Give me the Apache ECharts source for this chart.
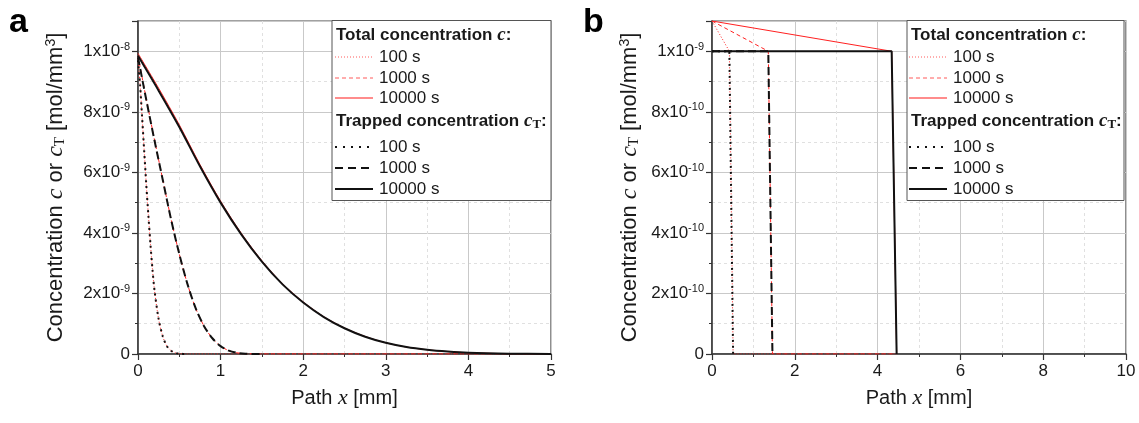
<!DOCTYPE html>
<html><head><meta charset="utf-8">
<script src="https://cdn.jsdelivr.net/npm/echarts/dist/echarts.min.js"></script>
<style>html,body{margin:0;padding:0;background:#fff}#c{width:1139px;height:423px}</style>
</head><body><div id="c"></div>
<script>
// ---------- Panel a: diffusion profiles (x in mm, concentration in mol/mm^3) ----------
const A_X_100 = [0, 0.025, 0.05, 0.075, 0.1, 0.125, 0.15, 0.175, 0.2, 0.25, 0.3, 0.35, 0.4, 0.45, 0.5, 0.6, 1, 2, 3, 4, 5];
const A_CT_100 = [9.7e-9, 8.9e-9, 7.8e-9, 6.7e-9, 5.6e-9, 4.6e-9, 3.65e-9, 2.8e-9, 2.1e-9, 1.15e-9, 0.58e-9, 0.26e-9, 0.11e-9, 0.04e-9, 0.01e-9, 0, 0, 0, 0, 0, 0];
const A_C_100 = [9.75e-9, 8.93e-9, 7.82e-9, 6.72e-9, 5.61e-9, 4.61e-9, 3.66e-9, 2.8e-9, 2.1e-9, 1.15e-9, 0.58e-9, 0.26e-9, 0.11e-9, 0.04e-9, 0.01e-9, 0, 0, 0, 0, 0, 0];

const A_X_1000 = [0, 0.1, 0.2, 0.3, 0.4, 0.5, 0.6, 0.7, 0.8, 0.9, 1.0, 1.1, 1.2, 1.3, 1.5, 2, 3, 4, 5];
const A_CT_1000 = [9.8e-9, 8.4e-9, 7.05e-9, 5.75e-9, 4.45e-9, 3.3e-9, 2.3e-9, 1.5e-9, 0.92e-9, 0.52e-9, 0.26e-9, 0.11e-9, 0.04e-9, 0.01e-9, 0, 0, 0, 0, 0];
const A_C_1000 = [9.85e-9, 8.43e-9, 7.07e-9, 5.76e-9, 4.46e-9, 3.3e-9, 2.3e-9, 1.5e-9, 0.92e-9, 0.52e-9, 0.26e-9, 0.11e-9, 0.04e-9, 0.01e-9, 0, 0, 0, 0, 0];

const A_X_10000 = [0, 0.25, 0.5, 0.75, 1, 1.25, 1.5, 1.75, 2, 2.25, 2.5, 2.75, 3, 3.25, 3.5, 3.75, 4, 4.5, 5];
const A_CT_10000 = [9.85e-9, 8.7e-9, 7.5e-9, 6.2e-9, 5.0e-9, 3.95e-9, 3.05e-9, 2.3e-9, 1.7e-9, 1.22e-9, 0.85e-9, 0.57e-9, 0.37e-9, 0.23e-9, 0.14e-9, 0.08e-9, 0.04e-9, 0.01e-9, 0];
const A_C_10000 = [9.93e-9, 8.78e-9, 7.57e-9, 6.26e-9, 5.05e-9, 3.99e-9, 3.08e-9, 2.32e-9, 1.72e-9, 1.23e-9, 0.86e-9, 0.58e-9, 0.37e-9, 0.23e-9, 0.14e-9, 0.08e-9, 0.04e-9, 0.01e-9, 0];

// ---------- Panel b: trapping fronts ----------
const B_X_100 = [0, 0.42, 0.51];
const B_CT_100 = [1e-9, 1e-9, 0];
const B_XC_100 = [0, 0.42, 0.51, 4.46];
const B_C_100 = [1.1e-9, 1.0e-9, 0, 0];

const B_X_1000 = [0, 1.36, 1.46];
const B_CT_1000 = [1e-9, 1e-9, 0];
const B_XC_1000 = [0, 1.36, 1.46, 4.46];
const B_C_1000 = [1.1e-9, 1.0e-9, 0, 0];

const B_X_10000 = [0, 4.34, 4.46];
const B_CT_10000 = [1e-9, 1e-9, 0];
const B_XC_10000 = [0, 4.34, 4.46];
const B_C_10000 = [1.1e-9, 1.0e-9, 0];

const TIMES = ['100 s', '1000 s', '10000 s'];
const A_X_TICKS = {min: 0, max: 5, interval: 1};
const B_X_TICKS = {min: 0, max: 10, interval: 2};
const A_Y_TICKS = {min: 0, max: 1.1e-8, interval: 2e-9};
const B_Y_TICKS = {min: 0, max: 1.1e-9, interval: 2e-10};

// ---------- styling ----------
const SANS = 'Liberation Sans, Arial, sans-serif';
const SERIF = 'Liberation Serif, Times New Roman, serif';
const TXT = '#1a1a1a';
const RED = '#ff2020';
const BLACK = '#111';
const redStyles = [
  {type: [1, 2], width: 1},
  {type: [4, 3], width: 1},
  {type: 'solid', width: 1}
];
const blackStyles = [
  {type: [2, 4], width: 2},
  {type: [8, 4], width: 2},
  {type: 'solid', width: 2}
];

function pairs(xs, ys) { return xs.map((x, i) => [x, ys[i]]); }

function sciLabel(v) {
  if (Math.abs(v) < 1e-15) return '{n|0}';
  const e = Math.floor(Math.log10(v) + 1e-6);
  const m = Math.round(v / Math.pow(10, e));
  return '{n|' + m + 'x10}{sup|' + e + '}';
}

const labelRich = {
  n: {fontSize: 17, fontFamily: SANS, color: TXT},
  sup: {fontSize: 11, fontFamily: SANS, color: TXT, padding: [0, 0, 9, 0]}
};
const nameRichY = {
  t: {fontSize: 22, fontFamily: SANS, color: TXT},
  i: {fontSize: 24, fontFamily: SERIF, fontStyle: 'italic', color: TXT},
  sub: {fontSize: 15, fontFamily: SERIF, color: TXT, padding: [9, 0, 0, 0]},
  sup: {fontSize: 14, fontFamily: SANS, color: TXT, padding: [0, 0, 10, 0]}
};
const nameRichX = {
  t: {fontSize: 20, fontFamily: SANS, color: TXT},
  i: {fontSize: 22, fontFamily: SERIF, fontStyle: 'italic', color: TXT}
};

function xAxis(idx, ticks) {
  return {
    type: 'value', gridIndex: idx, min: ticks.min, max: ticks.max, interval: ticks.interval,
    axisLine: {onZero: false, lineStyle: {color: '#333', width: 1.5}},
    axisTick: {show: true, inside: false, length: 6, lineStyle: {color: '#333', width: 1.2}},
    minorTick: {show: true, splitNumber: 2, length: 3, lineStyle: {color: '#333', width: 1}},
    splitLine: {show: true, lineStyle: {color: '#c9c9c9', width: 1}},
    minorSplitLine: {show: true, lineStyle: {color: '#e0e0e0', width: 1, type: [3, 3]}},
    axisLabel: {fontSize: 17, fontFamily: SANS, color: TXT, margin: 9},
    name: '{t|Path }{i|x}{t| [mm]}', nameLocation: 'middle', nameGap: 33,
    nameTextStyle: {rich: nameRichX}
  };
}
function yAxis(idx, ticks) {
  return {
    type: 'value', gridIndex: idx, min: ticks.min, max: ticks.max, interval: ticks.interval,
    axisLine: {onZero: false, lineStyle: {color: '#333', width: 1.5}},
    axisTick: {show: true, inside: false, length: 6, lineStyle: {color: '#333', width: 1.2}},
    minorTick: {show: true, splitNumber: 2, length: 3, lineStyle: {color: '#333', width: 1}},
    splitLine: {show: true, lineStyle: {color: '#c9c9c9', width: 1}},
    minorSplitLine: {show: true, lineStyle: {color: '#e0e0e0', width: 1, type: [3, 3]}},
    axisLabel: {margin: 8, showMaxLabel: false, formatter: sciLabel, rich: labelRich},
    name: '{t|Concentration }{i|c}{t| or }{i|c}{sub|T}{t| [mol/mm}{sup|3}{t|]}',
    nameLocation: 'middle', nameRotate: 90, nameGap: 70,
    nameTextStyle: {rich: nameRichY}
  };
}

function lineSeries(idx, data, color, ls, z, smooth) {
  return {
    type: 'line', xAxisIndex: idx, yAxisIndex: idx, data: data, showSymbol: false, symbol: 'none',
    smooth: smooth ? 0.3 : false,
    lineStyle: {color: color, width: ls.width, type: ls.type}, z: z, animation: false, silent: true
  };
}

const series = [
  // panel a: total (red) below, trapped (black) above
  lineSeries(0, pairs(A_X_100, A_C_100), RED, redStyles[0], 2, true),
  lineSeries(0, pairs(A_X_1000, A_C_1000), RED, redStyles[1], 2, true),
  lineSeries(0, pairs(A_X_10000, A_C_10000), RED, redStyles[2], 2, true),
  lineSeries(0, pairs(A_X_100.slice(0, 16), A_CT_100.slice(0, 16)), BLACK, blackStyles[0], 3, true),
  lineSeries(0, pairs(A_X_1000.slice(0, 15), A_CT_1000.slice(0, 15)), BLACK, blackStyles[1], 3, true),
  lineSeries(0, pairs(A_X_10000, A_CT_10000), BLACK, blackStyles[2], 3, true),
  // panel b
  lineSeries(1, pairs(B_XC_100, B_C_100), RED, redStyles[0], 2, false),
  lineSeries(1, pairs(B_XC_1000, B_C_1000), RED, redStyles[1], 2, false),
  lineSeries(1, pairs(B_XC_10000, B_C_10000), RED, redStyles[2], 2, false),
  lineSeries(1, pairs(B_X_100, B_CT_100), BLACK, blackStyles[0], 3, false),
  lineSeries(1, pairs(B_X_1000, B_CT_1000), BLACK, blackStyles[1], 3, false),
  lineSeries(1, pairs(B_X_10000, B_CT_10000), BLACK, blackStyles[2], 3, false)
];

// ---------- legends drawn as graphics ----------
const legendRich = {
  h: {fontSize: 17, fontFamily: SANS, fontWeight: 'bold', fill: TXT},
  i: {fontSize: 19, fontFamily: SERIF, fontStyle: 'italic', fontWeight: 'bold', fill: TXT},
  sub: {fontSize: 13, fontFamily: SERIF, fontWeight: 'bold', fill: TXT, padding: [8, 0, 0, 0]}
};
function legendGraphics(bx, bw, lx1, lx2, tx) {
  const g = [];
  g.push({type: 'rect', shape: {x: bx, y: 20.5, width: bw, height: 180}, style: {fill: '#fff', stroke: '#555', lineWidth: 1}, z: 10});
  const rowsY = [57, 78, 98, 147, 168, 189];
  g.push({type: 'text', x: bx + 4, y: 35, z: 11, style: {text: '{h|Total concentration }{i|c}{h|:}', rich: legendRich, verticalAlign: 'middle', fill: TXT}});
  g.push({type: 'text', x: bx + 4, y: 121, z: 11, style: {text: '{h|Trapped concentration }{i|c}{sub|T}{h|:}', rich: legendRich, verticalAlign: 'middle', fill: TXT}});
  const legStylesRed = [
    {stroke: '#ff5a5a', lineWidth: 1, lineDash: [1, 2]},
    {stroke: '#ff5a5a', lineWidth: 1, lineDash: [4, 3]},
    {stroke: '#ff8c8c', lineWidth: 2, lineDash: null}
  ];
  const legStylesBlack = [
    {stroke: '#111', lineWidth: 2, lineDash: [2, 6]},
    {stroke: '#111', lineWidth: 2, lineDash: [8, 5]},
    {stroke: '#111', lineWidth: 2, lineDash: null}
  ];
  for (let k = 0; k < 6; k++) {
    const st = k < 3 ? legStylesRed[k] : legStylesBlack[k - 3];
    g.push({type: 'line', z: 11, shape: {x1: lx1, y1: rowsY[k], x2: lx2, y2: rowsY[k]}, style: Object.assign({}, st)});
    g.push({type: 'text', x: tx, y: rowsY[k], z: 11, style: {text: TIMES[k % 3], fontSize: 17, fontFamily: SANS, fill: TXT, verticalAlign: 'middle'}});
  }
  return g;
}

const graphics = [].concat(
  legendGraphics(332, 219, 335, 373, 379),
  legendGraphics(907, 217, 909, 947, 953),
  [
    {type: 'text', x: 9, y: 6, style: {text: 'a', fontSize: 34, fontWeight: 'bold', fontFamily: SANS, fill: '#000'}},
    {type: 'text', x: 583, y: 6, style: {text: 'b', fontSize: 34, fontWeight: 'bold', fontFamily: SANS, fill: '#000'}}
  ]
);

const option = {
  backgroundColor: '#fff',
  animation: false,
  grid: [
    {left: 138, right: 588, top: 21, bottom: 69, show: true, borderColor: '#444', borderWidth: 1.2, backgroundColor: 'transparent'},
    {left: 712, right: 13, top: 21, bottom: 69, show: true, borderColor: '#444', borderWidth: 1.2, backgroundColor: 'transparent'}
  ],
  xAxis: [xAxis(0, A_X_TICKS), xAxis(1, B_X_TICKS)],
  yAxis: [yAxis(0, A_Y_TICKS), yAxis(1, B_Y_TICKS)],
  series: series,
  graphic: graphics
};

const chart = echarts.init(document.getElementById('c'), null, {renderer: 'canvas'});
chart.setOption(option);
</script></body></html>
